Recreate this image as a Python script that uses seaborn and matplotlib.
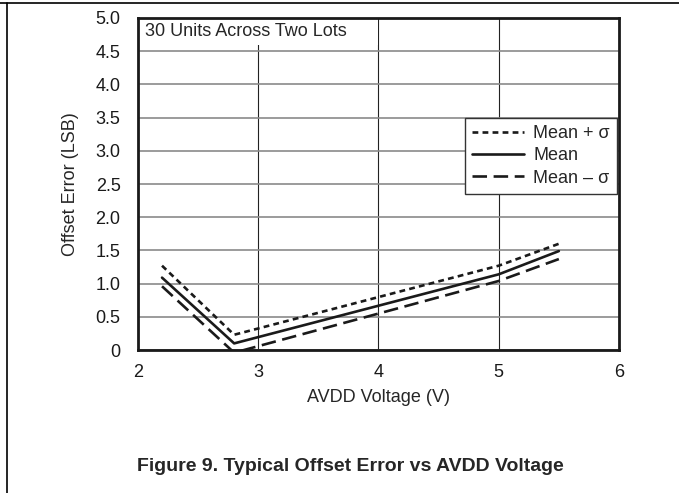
import numpy as np
import pandas as pd
import matplotlib
matplotlib.use("Agg")
import matplotlib.pyplot as plt
import seaborn as sns
from matplotlib.lines import Line2D
from matplotlib.patches import Rectangle

# Data
voltage = [2.2, 2.8, 5.0, 5.5]
mean_plus = [1.27, 0.23, 1.27, 1.60]
mean = [1.09, 0.10, 1.14, 1.49]
mean_minus = [0.96, -0.04, 1.04, 1.37]

series_labels = ["Mean + \u03c3", "Mean", "Mean \u2013 \u03c3"]
y_ticks = [0, 0.5, 1.0, 1.5, 2.0, 2.5, 3.0, 3.5, 4.0, 4.5, 5.0]
y_tick_labels = ["0", "0.5", "1.0", "1.5", "2.0", "2.5", "3.0", "3.5", "4.0", "4.5", "5.0"]
x_ticks = [2, 3, 4, 5, 6]

FS = 13

sns.set_style("white")
plt.rcParams["font.family"] = ["Liberation Sans", "DejaVu Sans"]

fig = plt.figure(figsize=(6.79, 4.93), dpi=100)
ax = fig.add_axes([0.2032, 0.290, 0.7084, 0.6735])

styles = [(0, (2.2, 1.6)), "-", (0, (5.5, 2.5))]
for vals, label, ls in zip([mean_plus, mean, mean_minus], series_labels, styles):
    df = pd.DataFrame({"AVDD": voltage, "Offset": vals})
    sns.lineplot(data=df, x="AVDD", y="Offset", ax=ax, color="#1a1a1a",
                 linewidth=1.9, linestyle=ls, label=label, zorder=3)

ax.set_xlim(2, 6)
ax.set_ylim(0, 5)
ax.set_xticks(x_ticks)
ax.set_xticklabels([str(t) for t in x_ticks], fontsize=FS)
ax.set_yticks(y_ticks)
ax.set_yticklabels(y_tick_labels, fontsize=FS)
ax.tick_params(axis="y", length=0, pad=12.5, colors="#1a1a1a")
ax.tick_params(axis="x", length=0, pad=10, colors="#1a1a1a")

ax.yaxis.grid(True, color="#8a8a8a", linewidth=1.2)
ax.xaxis.grid(True, color="#222222", linewidth=0.8)
ax.set_axisbelow(True)
for sp in ax.spines.values():
    sp.set_color("#1a1a1a")
    sp.set_linewidth(2.0)

ax.set_xlabel("AVDD Voltage (V)", fontsize=FS, labelpad=6)
ax.set_ylabel("Offset Error (LSB)", fontsize=FS, labelpad=12)

# white note box in the top-left corner
ax.add_patch(Rectangle((0, 0.919), 0.5, 0.081, transform=ax.transAxes,
                       facecolor="white", edgecolor="none", zorder=2.5))
ax.text(0.0146, 0.959, "30 Units Across Two Lots", transform=ax.transAxes,
        fontsize=FS, va="center", ha="left", zorder=4)

leg = ax.legend(loc="upper right", bbox_to_anchor=(0.996, 0.70), fontsize=FS,
                frameon=True, fancybox=False, framealpha=1, edgecolor="#333333",
                handlelength=2.9, handletextpad=0.5, labelspacing=0.3,
                borderpad=0.4, borderaxespad=0)
leg.get_frame().set_linewidth(1.0)

fig.text(0.516, 0.053, "Figure 9. Typical Offset Error vs AVDD Voltage",
         fontsize=14, fontweight="bold", ha="center", va="center")

# page frame lines (top and left)
fig.add_artist(Line2D([0, 1], [0.994, 0.994], color="black", linewidth=1.2,
                      transform=fig.transFigure))
fig.add_artist(Line2D([0.011, 0.011], [0, 0.994], color="black", linewidth=1.2,
                      transform=fig.transFigure))

fig.savefig("out.png", dpi=100)
